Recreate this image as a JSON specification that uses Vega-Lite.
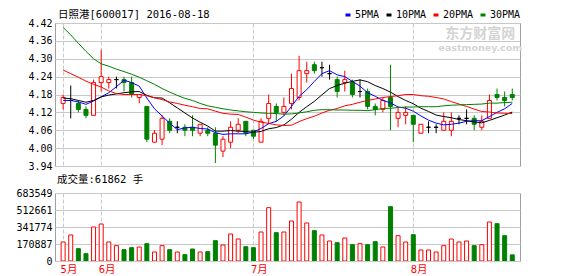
{
  "$schema": "https://vega.github.io/schema/vega-lite/v6.json",
  "background": "white",
  "padding": {"left": 15, "top": 9, "right": 5, "bottom": 0},
  "spacing": 2,
  "config": {
    "font": "DejaVu Sans Mono",
    "view": {"stroke": "#A0A0A0", "strokeWidth": 1},
    "axis": {"domain": false, "ticks": false, "labelFont": "DejaVu Sans Mono", "labelFontSize": 10, "labelColor": "#000000", "labelPadding": 3, "gridColor": "#C8C8C8", "gridOpacity": 1, "title": null},
    "title": {"anchor": "start", "frame": "group", "font": "DejaVu Sans Mono, Noto Sans CJK SC", "fontSize": 10.5, "fontWeight": "normal", "color": "#000000"}
  },
  "datasets": {
    "d": [
      {"i":1,"date":"2016-05-25","o":4.15,"h":4.18,"l":4.13,"c":4.17,"v":191000,"ma5":4.160,"ma10":4.168,"ma20":4.262,"ma30":4.405},
      {"i":2,"date":"2016-05-26","o":4.16,"h":4.21,"l":4.10,"c":4.16,"v":261400,"ma5":4.160,"ma10":4.166,"ma20":4.250,"ma30":4.380},
      {"i":3,"date":"2016-05-27","o":4.15,"h":4.16,"l":4.12,"c":4.13,"v":124000,"ma5":4.155,"ma10":4.160,"ma20":4.238,"ma30":4.352},
      {"i":4,"date":"2016-05-30","o":4.13,"h":4.14,"l":4.10,"c":4.11,"v":73700,"ma5":4.147,"ma10":4.154,"ma20":4.225,"ma30":4.325},
      {"i":5,"date":"2016-05-31","o":4.11,"h":4.23,"l":4.11,"c":4.22,"v":341800,"ma5":4.158,"ma10":4.160,"ma20":4.214,"ma30":4.300},
      {"i":6,"date":"2016-06-01","o":4.22,"h":4.33,"l":4.19,"c":4.24,"v":371900,"ma5":4.172,"ma10":4.172,"ma20":4.205,"ma30":4.283},
      {"i":7,"date":"2016-06-02","o":4.22,"h":4.24,"l":4.20,"c":4.23,"v":191000,"ma5":4.186,"ma10":4.178,"ma20":4.192,"ma30":4.275},
      {"i":8,"date":"2016-06-03","o":4.23,"h":4.24,"l":4.20,"c":4.23,"v":154100,"ma5":4.206,"ma10":4.182,"ma20":4.183,"ma30":4.265},
      {"i":9,"date":"2016-06-06","o":4.23,"h":4.24,"l":4.19,"c":4.22,"v":113900,"ma5":4.228,"ma10":4.186,"ma20":4.180,"ma30":4.257},
      {"i":10,"date":"2016-06-07","o":4.22,"h":4.24,"l":4.17,"c":4.18,"v":134000,"ma5":4.220,"ma10":4.189,"ma20":4.180,"ma30":4.248},
      {"i":11,"date":"2016-06-08","o":4.17,"h":4.18,"l":4.15,"c":4.18,"v":140700,"ma5":4.208,"ma10":4.190,"ma20":4.180,"ma30":4.238},
      {"i":12,"date":"2016-06-13","o":4.14,"h":4.14,"l":4.02,"c":4.03,"v":174200,"ma5":4.168,"ma10":4.177,"ma20":4.176,"ma30":4.226},
      {"i":13,"date":"2016-06-14","o":4.02,"h":4.06,"l":4.02,"c":4.05,"v":90500,"ma5":4.132,"ma10":4.169,"ma20":4.169,"ma30":4.214},
      {"i":14,"date":"2016-06-15","o":4.03,"h":4.11,"l":4.01,"c":4.10,"v":154100,"ma5":4.108,"ma10":4.168,"ma20":4.163,"ma30":4.200},
      {"i":15,"date":"2016-06-16","o":4.09,"h":4.10,"l":4.05,"c":4.06,"v":113900,"ma5":4.084,"ma10":4.152,"ma20":4.155,"ma30":4.188},
      {"i":16,"date":"2016-06-17","o":4.07,"h":4.09,"l":4.05,"c":4.07,"v":90500,"ma5":4.062,"ma10":4.135,"ma20":4.150,"ma30":4.177},
      {"i":17,"date":"2016-06-20","o":4.07,"h":4.08,"l":4.04,"c":4.06,"v":63700,"ma5":4.068,"ma10":4.118,"ma20":4.144,"ma30":4.167},
      {"i":18,"date":"2016-06-21","o":4.07,"h":4.11,"l":4.04,"c":4.06,"v":120600,"ma5":4.070,"ma10":4.101,"ma20":4.139,"ma30":4.160},
      {"i":19,"date":"2016-06-22","o":4.05,"h":4.08,"l":4.04,"c":4.08,"v":90500,"ma5":4.066,"ma10":4.087,"ma20":4.133,"ma30":4.150},
      {"i":20,"date":"2016-06-23","o":4.06,"h":4.07,"l":4.04,"c":4.05,"v":93800,"ma5":4.064,"ma10":4.074,"ma20":4.132,"ma30":4.142},
      {"i":21,"date":"2016-06-24","o":4.05,"h":4.07,"l":3.95,"c":4.01,"v":204400,"ma5":4.052,"ma10":4.057,"ma20":4.124,"ma30":4.137},
      {"i":22,"date":"2016-06-27","o":3.99,"h":4.04,"l":3.97,"c":4.03,"v":160800,"ma5":4.046,"ma10":4.057,"ma20":4.117,"ma30":4.132},
      {"i":23,"date":"2016-06-28","o":4.02,"h":4.09,"l":4.00,"c":4.07,"v":271400,"ma5":4.048,"ma10":4.059,"ma20":4.114,"ma30":4.128},
      {"i":24,"date":"2016-06-29","o":4.06,"h":4.10,"l":4.05,"c":4.08,"v":221100,"ma5":4.048,"ma10":4.057,"ma20":4.113,"ma30":4.125},
      {"i":25,"date":"2016-06-30","o":4.09,"h":4.09,"l":4.04,"c":4.05,"v":144100,"ma5":4.048,"ma10":4.056,"ma20":4.104,"ma30":4.122},
      {"i":26,"date":"2016-07-01","o":4.06,"h":4.06,"l":4.03,"c":4.04,"v":134000,"ma5":4.054,"ma10":4.053,"ma20":4.094,"ma30":4.120},
      {"i":27,"date":"2016-07-04","o":4.02,"h":4.10,"l":4.02,"c":4.09,"v":291500,"ma5":4.066,"ma10":4.056,"ma20":4.087,"ma30":4.118},
      {"i":28,"date":"2016-07-05","o":4.10,"h":4.18,"l":4.08,"c":4.15,"v":536100,"ma5":4.082,"ma10":4.065,"ma20":4.083,"ma30":4.117},
      {"i":29,"date":"2016-07-06","o":4.14,"h":4.15,"l":4.09,"c":4.12,"v":284800,"ma5":4.090,"ma10":4.069,"ma20":4.078,"ma30":4.116},
      {"i":30,"date":"2016-07-07","o":4.12,"h":4.17,"l":4.11,"c":4.14,"v":291500,"ma5":4.108,"ma10":4.078,"ma20":4.076,"ma30":4.114},
      {"i":31,"date":"2016-07-08","o":4.15,"h":4.25,"l":4.13,"c":4.20,"v":402100,"ma5":4.140,"ma10":4.097,"ma20":4.077,"ma30":4.115},
      {"i":32,"date":"2016-07-11","o":4.17,"h":4.31,"l":4.16,"c":4.26,"v":593100,"ma5":4.174,"ma10":4.120,"ma20":4.089,"ma30":4.118},
      {"i":33,"date":"2016-07-12","o":4.25,"h":4.29,"l":4.22,"c":4.26,"v":382000,"ma5":4.196,"ma10":4.139,"ma20":4.099,"ma30":4.122},
      {"i":34,"date":"2016-07-13","o":4.28,"h":4.29,"l":4.25,"c":4.26,"v":304900,"ma5":4.224,"ma10":4.157,"ma20":4.107,"ma30":4.127},
      {"i":35,"date":"2016-07-14","o":4.27,"h":4.29,"l":4.24,"c":4.27,"v":261400,"ma5":4.250,"ma10":4.179,"ma20":4.118,"ma30":4.129},
      {"i":36,"date":"2016-07-15","o":4.25,"h":4.28,"l":4.23,"c":4.25,"v":201000,"ma5":4.260,"ma10":4.200,"ma20":4.127,"ma30":4.129},
      {"i":37,"date":"2016-07-18","o":4.23,"h":4.24,"l":4.17,"c":4.19,"v":184300,"ma5":4.246,"ma10":4.210,"ma20":4.133,"ma30":4.128},
      {"i":38,"date":"2016-07-19","o":4.22,"h":4.26,"l":4.19,"c":4.23,"v":231200,"ma5":4.240,"ma10":4.218,"ma20":4.142,"ma30":4.128},
      {"i":39,"date":"2016-07-20","o":4.22,"h":4.23,"l":4.17,"c":4.18,"v":164200,"ma5":4.224,"ma10":4.224,"ma20":4.147,"ma30":4.127},
      {"i":40,"date":"2016-07-21","o":4.19,"h":4.23,"l":4.17,"c":4.19,"v":174200,"ma5":4.208,"ma10":4.229,"ma20":4.154,"ma30":4.127},
      {"i":41,"date":"2016-07-22","o":4.19,"h":4.20,"l":4.13,"c":4.14,"v":164200,"ma5":4.186,"ma10":4.223,"ma20":4.160,"ma30":4.126},
      {"i":42,"date":"2016-07-25","o":4.14,"h":4.15,"l":4.11,"c":4.13,"v":194300,"ma5":4.174,"ma10":4.210,"ma20":4.165,"ma30":4.129},
      {"i":43,"date":"2016-07-26","o":4.13,"h":4.17,"l":4.12,"c":4.16,"v":140700,"ma5":4.160,"ma10":4.200,"ma20":4.170,"ma30":4.133},
      {"i":44,"date":"2016-07-27","o":4.17,"h":4.28,"l":4.06,"c":4.14,"v":546200,"ma5":4.152,"ma10":4.188,"ma20":4.173,"ma30":4.134},
      {"i":45,"date":"2016-07-28","o":4.10,"h":4.14,"l":4.07,"c":4.12,"v":254700,"ma5":4.138,"ma10":4.173,"ma20":4.176,"ma30":4.136},
      {"i":46,"date":"2016-07-29","o":4.11,"h":4.14,"l":4.08,"c":4.12,"v":191000,"ma5":4.134,"ma10":4.160,"ma20":4.180,"ma30":4.138},
      {"i":47,"date":"2016-08-01","o":4.11,"h":4.11,"l":4.02,"c":4.08,"v":264700,"ma5":4.124,"ma10":4.149,"ma20":4.180,"ma30":4.138},
      {"i":48,"date":"2016-08-02","o":4.05,"h":4.08,"l":4.05,"c":4.08,"v":110600,"ma5":4.108,"ma10":4.134,"ma20":4.176,"ma30":4.139},
      {"i":49,"date":"2016-08-03","o":4.07,"h":4.09,"l":4.05,"c":4.07,"v":110600,"ma5":4.094,"ma10":4.123,"ma20":4.174,"ma30":4.139},
      {"i":50,"date":"2016-08-04","o":4.07,"h":4.08,"l":4.05,"c":4.07,"v":90500,"ma5":4.084,"ma10":4.111,"ma20":4.170,"ma30":4.139},
      {"i":51,"date":"2016-08-05","o":4.06,"h":4.12,"l":4.06,"c":4.09,"v":154100,"ma5":4.078,"ma10":4.106,"ma20":4.165,"ma30":4.142},
      {"i":52,"date":"2016-08-08","o":4.06,"h":4.12,"l":4.04,"c":4.09,"v":221100,"ma5":4.080,"ma10":4.102,"ma20":4.156,"ma30":4.144},
      {"i":53,"date":"2016-08-09","o":4.10,"h":4.11,"l":4.08,"c":4.10,"v":191000,"ma5":4.084,"ma10":4.096,"ma20":4.148,"ma30":4.145},
      {"i":54,"date":"2016-08-10","o":4.10,"h":4.13,"l":4.08,"c":4.10,"v":201000,"ma5":4.090,"ma10":4.092,"ma20":4.140,"ma30":4.146},
      {"i":55,"date":"2016-08-11","o":4.10,"h":4.11,"l":4.06,"c":4.08,"v":154100,"ma5":4.092,"ma10":4.088,"ma20":4.131,"ma30":4.147},
      {"i":56,"date":"2016-08-12","o":4.07,"h":4.11,"l":4.06,"c":4.09,"v":164200,"ma5":4.092,"ma10":4.085,"ma20":4.123,"ma30":4.148},
      {"i":57,"date":"2016-08-15","o":4.10,"h":4.18,"l":4.10,"c":4.16,"v":392000,"ma5":4.106,"ma10":4.093,"ma20":4.121,"ma30":4.151},
      {"i":58,"date":"2016-08-16","o":4.18,"h":4.20,"l":4.16,"c":4.17,"v":375300,"ma5":4.120,"ma10":4.102,"ma20":4.118,"ma30":4.151},
      {"i":59,"date":"2016-08-17","o":4.17,"h":4.19,"l":4.14,"c":4.16,"v":254700,"ma5":4.132,"ma10":4.111,"ma20":4.117,"ma30":4.153},
      {"i":60,"date":"2016-08-18","o":4.18,"h":4.20,"l":4.16,"c":4.17,"v":61862,"ma5":4.150,"ma10":4.121,"ma20":4.116,"ma30":4.154}
    ]
  },
  "vconcat": [
    {
      "width": 465,
      "height": 143,
      "title": {"text": "日照港[600017] 2016-08-18", "offset": -2, "dx": 3},
      "data": {"name": "d"},
      "encoding": {
        "x": {"field": "i", "type": "quantitative", "scale": {"domain": [0.59, 60.36], "nice": false, "zero": false}, "axis": {"values": [1, 6, 26, 47], "labels": false, "grid": true, "gridDash": [4, 2]}}
      },
      "layer": [
        {
          "data": {"values": [{"t": "东方财富网", "x": 55.8, "y": 4.383}]},
          "mark": {"type": "text", "font": "Noto Sans CJK SC", "fontSize": 14, "fontWeight": "bold", "color": "#D4D4D4"},
          "encoding": {
            "x": {"field": "x", "type": "quantitative"},
            "y": {"field": "y", "type": "quantitative", "scale": {"domain": [3.94, 4.42], "nice": false, "zero": false}, "axis": {"values": [3.94, 4.0, 4.06, 4.12, 4.18, 4.24, 4.30, 4.36, 4.42], "format": ".2f", "grid": true}},
            "text": {"field": "t"}
          }
        },
        {
          "data": {"values": [{"t": "eastmoney.com", "x": 55.8, "y": 4.337}]},
          "mark": {"type": "text", "font": "DejaVu Sans", "fontSize": 9.5, "fontWeight": "bold", "color": "#D4D4D4"},
          "encoding": {
            "x": {"field": "x", "type": "quantitative"},
            "y": {"field": "y", "type": "quantitative", "scale": {"domain": [3.94, 4.42], "nice": false, "zero": false}, "axis": {"values": [3.94, 4.0, 4.06, 4.12, 4.18, 4.24, 4.30, 4.36, 4.42], "format": ".2f", "grid": true}},
            "text": {"field": "t"}
          }
        },
        {
          "mark": {"type": "rule", "strokeWidth": 1, "clip": true},
          "encoding": {
            "y": {"field": "l", "type": "quantitative", "scale": {"domain": [3.94, 4.42], "nice": false, "zero": false}, "axis": {"values": [3.94, 4.0, 4.06, 4.12, 4.18, 4.24, 4.30, 4.36, 4.42], "format": ".2f", "grid": true}},
            "y2": {"field": "h"},
            "stroke": {"condition": [{"test": "datum.c > datum.o", "value": "#FF0000"}, {"test": "datum.c < datum.o", "value": "#008000"}], "value": "#000000"}
          }
        },
        {
          "mark": {"type": "bar", "size": 4, "strokeWidth": 1, "clip": true},
          "encoding": {
            "y": {"field": "o", "type": "quantitative", "scale": {"domain": [3.94, 4.42], "nice": false, "zero": false}, "axis": {"values": [3.94, 4.0, 4.06, 4.12, 4.18, 4.24, 4.30, 4.36, 4.42], "format": ".2f", "grid": true}},
            "y2": {"field": "c"},
            "fill": {"condition": {"test": "datum.c < datum.o", "value": "#008000"}, "value": "#FFFFFF"},
            "stroke": {"condition": [{"test": "datum.c > datum.o", "value": "#FF0000"}, {"test": "datum.c < datum.o", "value": "#008000"}], "value": "#000000"}
          }
        },
        {
          "transform": [{"fold": ["ma5", "ma10", "ma20", "ma30"], "as": ["k", "val"]}],
          "mark": {"type": "line", "strokeWidth": 1, "clip": true},
          "encoding": {
            "y": {"field": "val", "type": "quantitative", "scale": {"domain": [3.94, 4.42], "nice": false, "zero": false}, "axis": {"values": [3.94, 4.0, 4.06, 4.12, 4.18, 4.24, 4.30, 4.36, 4.42], "format": ".2f", "grid": true}},
            "color": {
              "field": "k", "type": "nominal",
              "scale": {"domain": ["ma5", "ma10", "ma20", "ma30"], "range": ["#0000FF", "#000000", "#FF0000", "#008000"]},
              "legend": {
                "orient": "none", "legendX": 288, "legendY": -13, "direction": "horizontal", "title": null,
                "labelExpr": "{'ma5':'5PMA','ma10':'10PMA','ma20':'20PMA','ma30':'30PMA'}[datum.label]",
                "symbolType": "stroke", "symbolStrokeWidth": 3, "symbolSize": 25,
                "labelFont": "DejaVu Sans Mono", "labelFontSize": 10, "labelColor": "#000000", "labelOffset": 2,
                "columnPadding": 0, "padding": 0
              }
            }
          }
        }
      ]
    },
    {
      "width": 465,
      "height": 68,
      "title": {"text": "成交量:61862 手", "offset": 3, "dx": 2},
      "data": {"name": "d"},
      "mark": {"type": "bar", "size": 4, "strokeWidth": 1, "clip": true},
      "encoding": {
        "x": {"field": "i", "type": "quantitative", "scale": {"domain": [0.59, 60.36], "nice": false, "zero": false},
              "axis": {"values": [1, 6, 26, 47], "grid": true, "gridDash": [4, 2], "labelExpr": "datum.value == 1 ? '5月' : datum.value == 6 ? '6月' : datum.value == 26 ? '7月' : '8月'", "labelColor": "#FF0000", "labelAlign": "left", "labelOffset": -3, "labelFont": "DejaVu Sans Mono, Noto Sans CJK SC", "labelFontSize": 10.5, "labelPadding": 3}},
        "y": {"field": "v", "type": "quantitative", "scale": {"domain": [0, 683549], "nice": false},
              "axis": {"values": [0, 170887, 341774, 512661, 683549], "format": "d", "grid": true}},
        "fill": {"condition": {"test": "datum.c < datum.o", "value": "#008000"}, "value": "#FFFFFF"},
        "stroke": {"condition": {"test": "datum.c < datum.o", "value": "#008000"}, "value": "#FF0000"}
      }
    }
  ]
}
